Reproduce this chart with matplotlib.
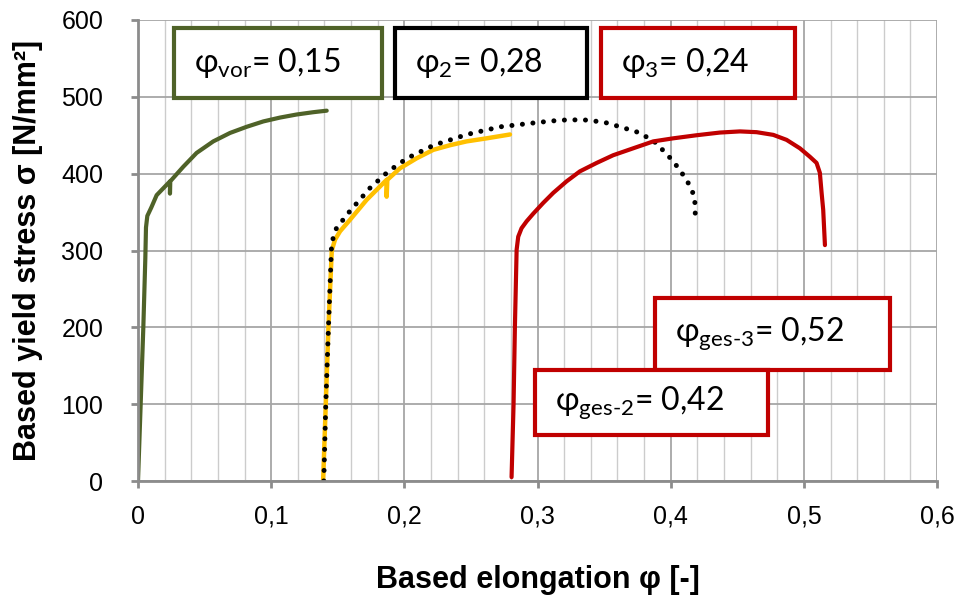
import numpy as np
import matplotlib
matplotlib.use("Agg")
import matplotlib.pyplot as plt
from matplotlib.patches import Rectangle
from matplotlib.ticker import MultipleLocator, FuncFormatter

plt.rcParams['font.family'] = ['Liberation Sans', 'DejaVu Sans']
plt.rcParams['mathtext.fontset'] = 'custom'
plt.rcParams['mathtext.rm'] = 'Lato'
plt.rcParams['mathtext.it'] = 'Lato'

# kurven
green_x = [0, 0.002, 0.004, 0.0055, 0.006, 0.007, 0.01, 0.014, 0.024, 0.024, 0.0242,
           0.034, 0.044, 0.0565, 0.0691, 0.0816, 0.0941, 0.1066, 0.1191, 0.1316, 0.1417]
green_y = [0, 100, 200, 290, 330, 345, 356, 372, 390, 374, 390,
           409, 427, 442, 453, 461, 468, 473, 477, 480, 482]

yellow_x = [0.139, 0.141, 0.143, 0.1455, 0.1479, 0.1517, 0.1592, 0.1717, 0.1867, 0.1867,
            0.1872, 0.1967, 0.2092, 0.2217, 0.2342, 0.2467, 0.2618, 0.2793]
yellow_y = [0, 100, 200, 300, 314, 325, 340, 366, 392, 370,
            392, 407, 420, 431, 437, 442, 446, 451]

black_x = [0.1395, 0.141, 0.143, 0.1454, 0.149, 0.159, 0.174, 0.188, 0.202, 0.222,
           0.247, 0.272, 0.297, 0.31, 0.322, 0.335, 0.35, 0.362, 0.377, 0.389,
           0.402, 0.412, 0.418, 0.4185]
black_y = [0, 100, 200, 310, 329, 351, 381, 403, 420, 437,
           451, 461, 466, 468.5, 470, 470, 467, 461, 453, 440,
           416, 392, 370, 344]

red_x = [0.2805, 0.282, 0.283, 0.2843, 0.2855, 0.288, 0.2918, 0.2968, 0.3043, 0.3118,
         0.3218, 0.3318, 0.3444, 0.3568, 0.3718, 0.3869, 0.4019, 0.4194, 0.4369, 0.452,
         0.4645, 0.477, 0.487, 0.497, 0.5045, 0.5095, 0.512, 0.5133, 0.5145, 0.5158]
red_y = [5, 100, 200, 301, 318, 329, 338, 348, 362, 375,
         390, 403, 414, 424, 433, 442, 446, 450, 453.5, 455,
         454, 450.5, 444, 433, 422, 414, 401, 375, 353, 307]

# beschriftungen: text, box (x0, x1, y0, y1), farbe
labels = [r"φ$_{\mathrm{vor}}$= 0,15", r"φ$_{\mathrm{2}}$= 0,28", r"φ$_{\mathrm{3}}$= 0,24",
          r"φ$_{\mathrm{ges\text{-}3}}$= 0,52", r"φ$_{\mathrm{ges\text{-}2}}$= 0,42"]
boxes = [(0.027, 0.183, 499, 589), (0.193, 0.337, 499, 589), (0.348, 0.493, 499, 589),
         (0.388, 0.565, 145, 238), (0.298, 0.473, 60, 145)]
box_colors = ['#4f6228', 'black', '#c00000', '#c00000', '#c00000']

fig = plt.figure(figsize=(9.61, 5.97), dpi=100)
ax = fig.add_axes([0.1436, 0.1943, 0.8315, 0.7722])

ax.set_xlim(0, 0.6)
ax.set_ylim(0, 600)
ax.xaxis.set_major_locator(MultipleLocator(0.1))
ax.xaxis.set_minor_locator(MultipleLocator(0.02))
ax.yaxis.set_major_locator(MultipleLocator(100))
ax.xaxis.set_major_formatter(FuncFormatter(lambda v, p: ("%g" % round(v, 2)).replace(".", ",")))

ax.grid(True, which='major', color='#a6a6a6', lw=1.3)
ax.grid(True, which='minor', axis='x', color='#cccccc', lw=1)
ax.set_axisbelow(True)

for s in ['top', 'right']:
    ax.spines[s].set_visible(False)
for s in ['left', 'bottom']:
    ax.spines[s].set_color('#8c8c8c')
    ax.spines[s].set_linewidth(2)
ax.tick_params(which='major', direction='out', length=5, width=2, color='#8c8c8c',
               labelsize=18)
ax.tick_params(axis='x', pad=12)
ax.tick_params(axis='y', pad=20)
ax.tick_params(which='minor', length=0)

ax.plot(green_x, green_y, color='#4f6228', lw=3, solid_joinstyle='round', solid_capstyle='round')
ax.plot(yellow_x, yellow_y, color='#ffc000', lw=3.2, solid_joinstyle='round', solid_capstyle='round')
ax.plot(black_x, black_y, color='black', lw=3.6, linestyle=(0, (0.01, 2.1)),
        dash_capstyle='round')
ax.plot(red_x, red_y, color='#c00000', lw=3, solid_joinstyle='round', solid_capstyle='round')

for txt, (x0, x1, y0, y1), c in zip(labels, boxes, box_colors):
    ax.add_patch(Rectangle((x0, y0), x1 - x0, y1 - y0, facecolor='white', edgecolor=c,
                           lw=3, zorder=5, clip_on=False))
    ax.text(x0 + 0.015, (y0 + y1) / 2, txt, fontsize=23, family=['Lato', 'DejaVu Sans'],
            va='center', ha='left', zorder=6)

ax.set_xlabel("Based elongation φ [-]", fontsize=22, fontweight='bold', labelpad=26)
ax.set_ylabel("Based yield stress σ [N/mm²]", fontsize=22, fontweight='bold', labelpad=13)

fig.savefig("out.png", dpi=100)
